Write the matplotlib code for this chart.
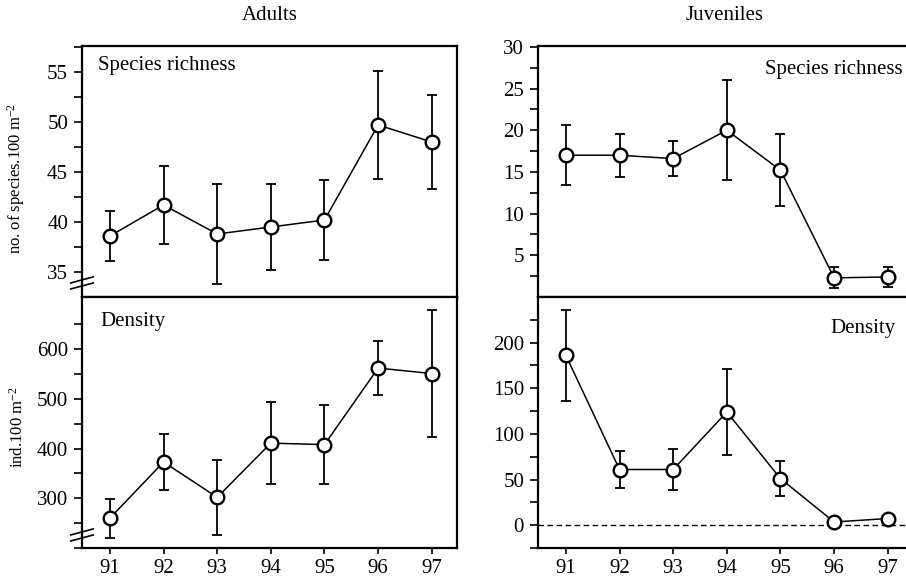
import numpy as np
import matplotlib
matplotlib.use('Agg')
import matplotlib.pyplot as plt
from matplotlib.ticker import FixedLocator

plt.rcParams['font.family'] = ['Liberation Serif', 'DejaVu Serif']
plt.rcParams['mathtext.fontset'] = 'custom'
plt.rcParams['mathtext.rm'] = 'Liberation Serif'
plt.rcParams['mathtext.it'] = 'Liberation Serif:italic'

years = [91, 92, 93, 94, 95, 96, 97]

adult_rich = [38.6, 41.7, 38.8, 39.5, 40.2, 49.7, 48.0]
adult_rich_err = [2.5, 3.9, 5.0, 4.3, 4.0, 5.4, 4.7]

adult_dens = [260, 373, 302, 411, 408, 562, 551]
adult_dens_err = [39, 57, 76, 83, 80, 54, 128]

juv_rich = [17.0, 17.0, 16.6, 20.0, 15.2, 2.3, 2.4]
juv_rich_err = [3.6, 2.6, 2.1, 6.0, 4.3, 1.25, 1.25]

juv_dens = [186, 61, 61, 124, 51, 3.5, 7.3]
juv_dens_err = [50, 20, 23, 47, 19, 0, 0]

fig = plt.figure(figsize=(9.06, 5.79), dpi=100)

W = 375 / 906
H = 251 / 579
x_left = 82 / 906
x_right = 538 / 906
y_top = 1 - 297 / 579
y_bot = 1 - 548 / 579

ax_ar = fig.add_axes([x_left, y_top, W, H])
ax_ad = fig.add_axes([x_left, y_bot, W, H])
ax_jr = fig.add_axes([x_right, y_top, W, H])
ax_jd = fig.add_axes([x_right, y_bot, W, H])


def draw(ax, vals, errs, ylim, major, minor, bottom):
    ax.errorbar(years, vals, yerr=errs, fmt='none', ecolor='black',
                elinewidth=1.3, capsize=3.5, capthick=1.3, zorder=2)
    ax.plot(years, vals, '-o', color='black', lw=1.1, ms=9.8,
            mfc='white', mec='black', mew=1.7, zorder=3, clip_on=False)
    ax.set_xlim(90.48, 97.47)
    ax.set_ylim(*ylim)
    ax.yaxis.set_major_locator(FixedLocator(major))
    ax.yaxis.set_minor_locator(FixedLocator(minor))
    for s in ax.spines.values():
        s.set_linewidth(1.6)
    ax.tick_params(axis='y', which='both', direction='out', length=6,
                   width=1.2, labelsize=15, pad=4)
    if bottom:
        ax.set_xticks(years)
        ax.tick_params(axis='x', direction='out', length=4, width=1.2,
                       labelsize=15, pad=4)
    else:
        ax.set_xticks([])


def axis_break(ax, yfrac):
    for dy in (-0.012, 0.012):
        ax.plot([-0.03, 0.03], [yfrac + dy - 0.012, yfrac + dy + 0.012],
                transform=ax.transAxes, color='black', lw=1.2, clip_on=False)


draw(ax_ar, adult_rich, adult_rich_err, (32.5, 57.6),
     [35, 40, 45, 50, 55], [37.5, 42.5, 47.5, 52.5, 57.5], False)
draw(ax_ad, adult_dens, adult_dens_err, (200, 705),
     [300, 400, 500, 600], [200, 250, 350, 450, 550, 650], True)
draw(ax_jr, juv_rich, juv_rich_err, (0, 30.1),
     [5, 10, 15, 20, 25, 30], [2.5, 7.5, 12.5, 17.5, 22.5, 27.5], False)
draw(ax_jd, juv_dens, juv_dens_err, (-25, 250),
     [0, 50, 100, 150, 200], [-25, 25, 75, 125, 175, 225], True)

ax_jd.axhline(0, color='black', lw=1.0, ls=(0, (4, 2.5)), zorder=1)

axis_break(ax_ar, 0.056)
axis_break(ax_ad, 0.052)

ax_ar.text(0.043, 0.924, 'Species richness', transform=ax_ar.transAxes,
           fontsize=15, va='center', ha='left')
ax_ad.text(0.048, 0.904, 'Density', transform=ax_ad.transAxes,
           fontsize=15, va='center', ha='left')
ax_jr.text(0.973, 0.908, 'Species richness', transform=ax_jr.transAxes,
           fontsize=15, va='center', ha='right')
ax_jd.text(0.955, 0.876, 'Density', transform=ax_jd.transAxes,
           fontsize=15, va='center', ha='right')

ax_ar.set_ylabel('no. of species.100 m$^{-2}$', fontsize=12)
ax_ar.yaxis.set_label_coords(-0.147, 0.474)
ax_ad.set_ylabel('ind.100 m$^{-2}$', fontsize=12)
ax_ad.yaxis.set_label_coords(-0.147, 0.482)

fig.text(270 / 906, 1 - 16 / 579, 'Adults', fontsize=15, ha='center', va='center')
fig.text(725 / 906, 1 - 16 / 579, 'Juveniles', fontsize=15, ha='center', va='center')

fig.savefig('out.png', dpi=100)
